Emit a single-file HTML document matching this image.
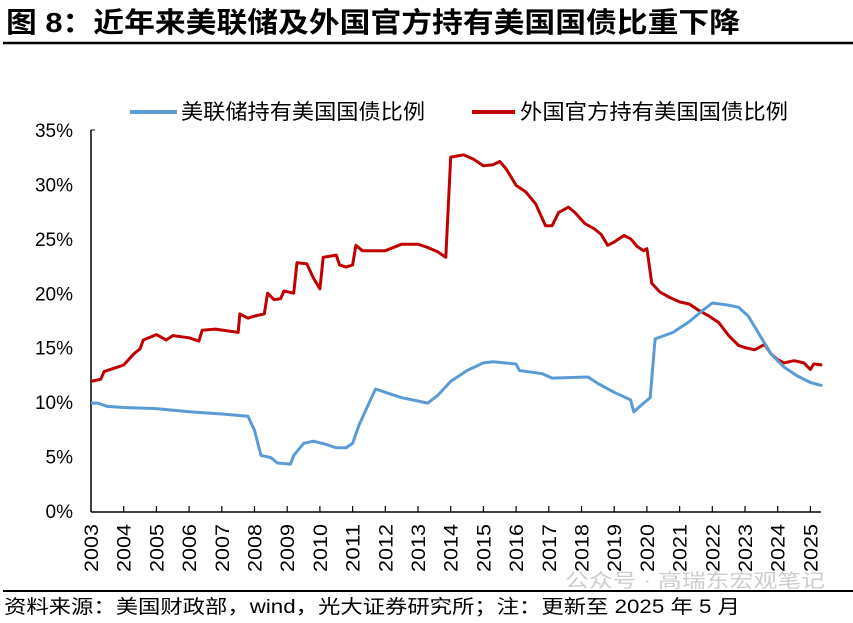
<!DOCTYPE html>
<html><head><meta charset="utf-8">
<style>
body{margin:0;background:#fff;width:853px;height:618px;overflow:hidden;font-family:"Liberation Sans","Noto Sans CJK SC",sans-serif;}
</style></head><body>
<svg id="s" width="853" height="618" xmlns="http://www.w3.org/2000/svg" font-family="Liberation Sans, Noto Sans CJK SC, sans-serif">
<text x="6" y="32" font-size="28" font-weight="bold" fill="#000" textLength="734" lengthAdjust="spacingAndGlyphs">图 8：近年来美联储及外国官方持有美国国债比重下降</text>
<line x1="3" y1="43" x2="853" y2="43" stroke="#000" stroke-width="2.5"/>
<line x1="130" y1="112" x2="177" y2="112" stroke="#5b9bd5" stroke-width="4"/>
<text x="181" y="119" font-size="21" textLength="244" lengthAdjust="spacingAndGlyphs">美联储持有美国国债比例</text>
<line x1="472" y1="112" x2="515" y2="112" stroke="#c00000" stroke-width="4"/>
<text x="520" y="119" font-size="21" textLength="268" lengthAdjust="spacingAndGlyphs">外国官方持有美国国债比例</text>
<line x1="3" y1="591" x2="853" y2="591" stroke="#000" stroke-width="2"/>
<text x="4" y="613" font-size="19" textLength="736" lengthAdjust="spacingAndGlyphs">资料来源：美国财政部，wind，光大证券研究所；注：更新至 2025 年 5 月</text>
<text x="565" y="587" font-size="19" fill="#ccc" textLength="260" lengthAdjust="spacingAndGlyphs">公众号 · 高瑞东宏观笔记</text>
<g id="g"></g>
</svg>
<script>
var g=document.getElementById('g'),h='';
function X(t){return 91+32.7*(t-2003);}function Y(v){return 512-10.886*v;}
h+='<line x1="91" y1="130" x2="91" y2="512" stroke="#000" stroke-width="1.5"/>';
h+='<line x1="91" y1="512" x2="821" y2="512" stroke="#000" stroke-width="1.5"/>';
h+='<line x1="91" y1="130" x2="95" y2="130" stroke="#000"/>';
for(var i=0;i<=7;i++){h+='<text x="73" y="'+(Y(i*5)+6)+'" font-size="19" text-anchor="end">'+(i*5)+'%</text>';}
for(var y=2003;y<=2025;y++){var x=X(y);if(y>2003)h+='<line x1="'+x+'" y1="512" x2="'+x+'" y2="506" stroke="#000" stroke-width="1.2"/>';
h+='<text transform="translate('+(x+7)+',572) rotate(-90)" font-size="19" textLength="48" lengthAdjust="spacingAndGlyphs">'+y+'</text>';}
var b=[[2003,10],[2003.2,10],[2003.5,9.7],[2004,9.6],[2005,9.5],[2006,9.2],[2007,9.0],[2007.8,8.8],[2008,7.5],[2008.2,5.2],[2008.5,5.0],[2008.7,4.5],[2009.1,4.4],[2009.2,5.2],[2009.5,6.3],[2009.8,6.5],[2010.2,6.2],[2010.5,5.9],[2010.8,5.9],[2011,6.3],[2011.2,8],[2011.5,10],[2011.7,11.3],[2012,11],[2012.5,10.5],[2013,10.2],[2013.3,10],[2013.6,10.7],[2014,12],[2014.5,13],[2015,13.7],[2015.3,13.8],[2016,13.6],[2016.1,13],[2016.8,12.7],[2017.1,12.3],[2018.2,12.4],[2018.5,11.8],[2019,11],[2019.5,10.3],[2019.6,9.2],[2019.9,10],[2020.1,10.5],[2020.25,15.9],[2020.8,16.5],[2021.3,17.5],[2021.7,18.5],[2022,19.2],[2022.5,19],[2022.8,18.8],[2023.1,18],[2023.4,16.5],[2023.8,14.5],[2024.2,13.3],[2024.6,12.5],[2025,11.9],[2025.36,11.6]];
var r=[[2003,12],[2003.3,12.2],[2003.4,12.9],[2003.8,13.3],[2004,13.5],[2004.3,14.5],[2004.5,15],[2004.6,15.8],[2005,16.3],[2005.3,15.8],[2005.5,16.2],[2006,16],[2006.3,15.7],[2006.4,16.7],[2006.8,16.8],[2007.5,16.5],[2007.55,18.2],[2007.8,17.8],[2008,18],[2008.3,18.2],[2008.4,20.1],[2008.6,19.5],[2008.8,19.6],[2008.9,20.3],[2009.2,20.1],[2009.3,22.9],[2009.6,22.8],[2009.8,21.5],[2010,20.5],[2010.1,23.4],[2010.5,23.6],[2010.6,22.7],[2010.8,22.5],[2011,22.7],[2011.1,24.5],[2011.3,24],[2012,24],[2012.5,24.6],[2013,24.6],[2013.3,24.3],[2013.6,23.9],[2013.85,23.4],[2014,32.6],[2014.4,32.8],[2014.7,32.4],[2015,31.8],[2015.3,31.9],[2015.5,32.2],[2015.7,31.5],[2016,30],[2016.3,29.4],[2016.6,28.3],[2016.9,26.3],[2017.1,26.3],[2017.3,27.5],[2017.6,28],[2017.8,27.5],[2018.1,26.5],[2018.4,26],[2018.6,25.5],[2018.8,24.5],[2019,24.8],[2019.3,25.4],[2019.5,25.1],[2019.7,24.4],[2019.9,24],[2020,24.2],[2020.15,21],[2020.4,20.2],[2020.7,19.7],[2021,19.3],[2021.3,19.1],[2021.6,18.5],[2021.9,18],[2022.2,17.4],[2022.5,16.2],[2022.8,15.3],[2023,15.1],[2023.3,14.9],[2023.6,15.4],[2023.8,14.5],[2024,14],[2024.2,13.7],[2024.5,13.9],[2024.8,13.7],[2025,13.1],[2025.1,13.6],[2025.36,13.5]];
function P(a,c){return '<polyline fill="none" stroke="'+c+'" stroke-width="3" stroke-linejoin="round" points="'+a.map(function(p){return X(p[0]).toFixed(1)+','+Y(p[1]).toFixed(1)}).join(' ')+'"/>';}
h+=P(r,'#c00000')+P(b,'#5b9bd5');
g.innerHTML=h;
</script>
</body></html>
